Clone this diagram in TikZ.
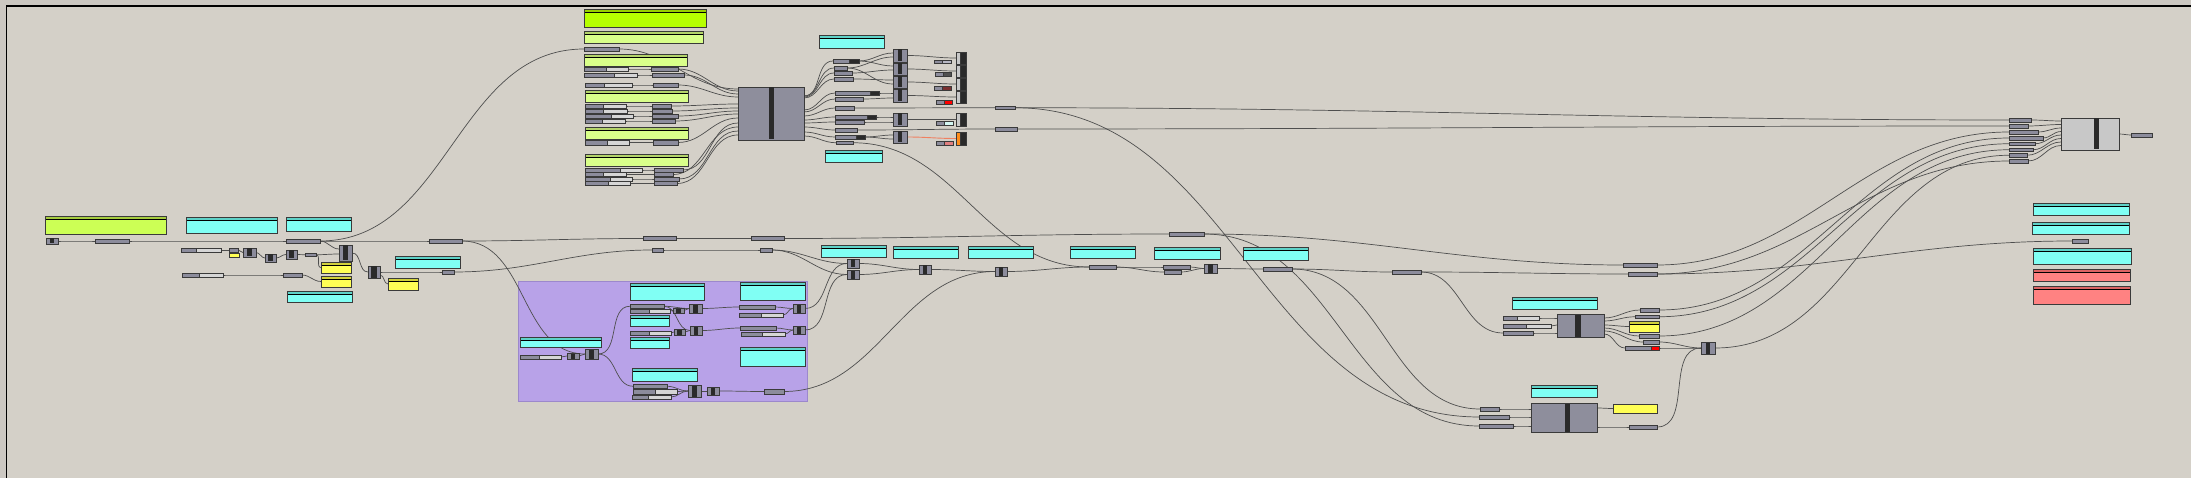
\documentclass[tikz,border=0pt]{standalone}
\definecolor{canvasbg}{HTML}{D4D0C8}
\definecolor{outbg}{HTML}{CCC8C2}
\definecolor{prmfill}{HTML}{8C8C9C}
\definecolor{prmdraw}{HTML}{3A3A3A}
\definecolor{sldlight}{HTML}{D6D6D6}
\definecolor{barcol}{HTML}{2A2A2A}
\definecolor{wirecol}{HTML}{4E4E4E}
\definecolor{cyanbody}{HTML}{80FFF4}
\definecolor{cyanhead}{HTML}{5ED2C8}
\definecolor{limebody}{HTML}{B6FF00}
\definecolor{limehead}{HTML}{98D000}
\definecolor{lgbody}{HTML}{D9FF8A}
\definecolor{lghead}{HTML}{B4D46A}
\definecolor{gabody}{HTML}{CCFF55}
\definecolor{gahead}{HTML}{A6CC3E}
\definecolor{yelbody}{HTML}{FFFF55}
\definecolor{yelhead}{HTML}{D2D23C}
\definecolor{salbody}{HTML}{FF8282}
\definecolor{salhead}{HTML}{DC6464}
\definecolor{grpfill}{HTML}{B8A2E8}
\definecolor{grpdraw}{HTML}{9C88CC}
\definecolor{bigfill}{HTML}{8E8E9C}
\definecolor{lightbig}{HTML}{C8C8C8}
\definecolor{orangewire}{HTML}{F08060}
\definecolor{orangefill}{HTML}{FF8C1A}
\definecolor{lightsw}{HTML}{B8B8C4}
\definecolor{darksw}{HTML}{505050}
\definecolor{darkredsw}{HTML}{7A3030}
\definecolor{redsw}{HTML}{FF0000}
\definecolor{cyanwhite}{HTML}{D4F6F2}
\definecolor{salsw}{HTML}{E08080}
\pgfdeclarelayer{back}
\pgfdeclarelayer{wirelayer}
\pgfsetlayers{back,wirelayer,main}
\tikzset{
  box/.style={anchor=north west, inner sep=0pt, outer sep=0pt},
  prmbox/.style={box, fill=prmfill, draw=prmdraw, line width=0.6pt},
  sldbox/.style={box, fill=sldlight, draw=prmdraw, line width=0.6pt},
  wire/.style={draw=wirecol, line width=0.7pt},
  pnlline/.style={draw=prmdraw, line width=0.7pt},
}
\newcommand\prm[5]{\node[prmbox,minimum width={(#4-#2)*1pt},minimum height={(#5-#3)*1pt}] (#1) at (#2,#3) {};}
\newcommand\prmk[7]{\prm{#1}{#2}{#3}{#4}{#5}\filldraw[fill=#7,draw=prmdraw,line width=0.6pt] (#6,#3) rectangle (#4,#5);}
\newcommand\swt[6]{\prm{#1}{#2}{#3}{#4}{#5}\filldraw[fill=#6,draw=prmdraw,line width=0.6pt] ({(#2+#4)/2},#3) rectangle (#4,#5);}
\newcommand\sld[6]{\node[sldbox,minimum width={(#4-#2)*1pt},minimum height={(#5-#3)*1pt}] (#1) at (#2,#3) {};\filldraw[fill=prmfill,draw=prmdraw,line width=0.6pt] (#2,#3) rectangle (#6,#5);}
\newcommand\cmpbar[8]{\node[box,fill=#8,draw=prmdraw,line width=0.6pt,minimum width={(#4-#2)*1pt},minimum height={(#5-#3)*1pt}] (#1) at (#2,#3) {};\fill[barcol] (#6,#3+0.5) rectangle (#7,#5-0.5);}
\newcommand\cmp[6]{\cmpbar{#1}{#2}{#3}{#4}{#5}{{(#2+#4)/2-(#4-#2)*#6/2}}{{(#2+#4)/2+(#4-#2)*#6/2}}{prmfill}}
\newcommand\ocmp[6]{\node[box,fill=barcol,draw=prmdraw,line width=0.6pt,minimum width={(#4-#2)*1pt},minimum height={(#5-#3)*1pt}] (#1) at (#2,#3) {};\filldraw[fill=#6,draw=prmdraw,line width=0.5pt] (#2,#3) rectangle ({#2+(#4-#2)*0.38},#5);}
\newcommand\pnl[7]{\node[box,fill=#6,minimum width={(#4-#2)*1pt},minimum height={(#5-#3)*1pt}] (#1) at (#2,#3) {};\fill[#7] (#2,#3) rectangle (#4,#3+3);\draw[black,line width=0.7pt] (#2,#3+3.3) -- (#4,#3+3.3);\draw[pnlline] (#2,#3) rectangle (#4,#5);}
\newcommand\W[3][]{\draw[wire,#1] (#2) to[out=0,in=180] (#3);}
\begin{document}
\begin{tikzpicture}[x=1pt,y=-1pt]
\useasboundingbox (0,0) rectangle (2191,478);
\begin{pgfonlayer}{back}
\fill[outbg] (0,0) rectangle (2191,478);
\fill[canvasbg] (6.5,6) rectangle (2191,478);
\draw[black,line width=1.2pt] (6.5,478) -- (6.5,6) -- (2191,6);
\node[box,fill=grpfill,draw=grpdraw,line width=0.8pt,minimum width=289pt,minimum height=120pt] (grp) at (518,281) {};
\end{pgfonlayer}
% ---------- left area
\pnl{panA}{45}{216}{166}{234}{gabody}{gahead}
\pnl{panB}{186}{217}{277}{233}{cyanbody}{cyanhead}
\pnl{panC}{286}{217}{351}{231}{cyanbody}{cyanhead}
\cmp{tog}{46}{238}{58}{244}{0.4}
\prm{pA}{95}{239}{129}{243}
\prm{pB}{286}{239}{320}{243}
\prm{pC}{429}{239}{462}{243}
\sld{sA}{181}{248}{221}{252}{196}
\prm{qA}{229}{248}{238}{252}
\node[box,fill=yelbody,draw=prmdraw,line width=0.5pt,minimum width=10pt,minimum height=4pt] (qAy) at (229,253) {};
\cmp{cA}{243}{248}{256}{257}{0.4}
\cmp{cB}{265}{254}{276}{262}{0.4}
\cmp{cC}{286}{250}{297}{259}{0.4}
\prm{qB}{305}{253}{316}{256.5}
\cmp{cD}{339}{245}{352}{261}{0.45}
\pnl{yA}{321}{262}{351}{273}{yelbody}{yelhead}
\pnl{yB}{321}{276}{351}{287}{yelbody}{yelhead}
\cmp{cE}{368}{266}{380}{278}{0.45}
\prm{qC}{442}{270}{454}{274}
\pnl{panD}{395}{256}{460}{268}{cyanbody}{cyanhead}
\pnl{yC}{388}{278}{418}{290}{yelbody}{yelhead}
\sld{sB}{182}{273}{223}{277}{199}
\prm{qD}{283}{273}{302}{277}
\pnl{panE}{287}{291}{352}{302}{cyanbody}{cyanhead}
\prm{xA}{643}{236.5}{676}{240.5}
\prm{xB}{751}{236.5}{784}{240.5}
\prm{yaP}{652}{248}{663}{252}
\prm{ybP}{760}{248}{772}{252}
% ---------- purple group
\pnl{gA}{520}{337}{601}{347}{cyanbody}{cyanhead}
\sld{gS}{520}{355}{561}{359}{539}
\cmp{gcz}{567}{353}{579}{359}{0.4}
\cmp{gca}{585}{349}{598}{359}{0.4}
\pnl{gB}{630}{283}{704}{300}{cyanbody}{cyanhead}
\prm{gp1}{630}{304}{664}{308.5}
\sld{gs1}{630}{309}{670}{313}{649}
\cmp{gsc1}{673}{308}{684}{313}{0.4}
\cmp{gcb}{689}{304}{702}{313}{0.4}
\pnl{gC}{630}{315}{669}{326}{cyanbody}{cyanhead}
\sld{gs2}{630}{331}{671}{335}{649}
\cmp{gsc2}{674}{329}{685}{335}{0.4}
\cmp{gcc}{690}{326}{702}{335}{0.4}
\pnl{gD}{630}{337}{669}{348}{cyanbody}{cyanhead}
\pnl{gE}{740}{282}{805}{300}{cyanbody}{cyanhead}
\prm{gq1}{739}{305}{775}{309}
\sld{gs3}{739}{313}{783}{317}{761}
\cmp{gcd}{793}{304}{805}{313}{0.4}
\prm{gq2}{740}{326}{776}{330}
\sld{gs4}{741}{332}{785}{336}{762}
\cmp{gce}{793}{326}{805}{334}{0.4}
\pnl{gF}{740}{347}{805}{366}{cyanbody}{cyanhead}
\pnl{gG}{632}{368}{697}{381}{cyanbody}{cyanhead}
\prm{gp7}{633}{384}{667}{388.5}
\sld{gs7}{633}{389}{677}{394}{655}
\sld{gs8}{632}{395}{671}{399}{648}
\cmp{gcf}{688}{385}{701}{397}{0.4}
\cmp{gcg}{707}{387}{719}{395}{0.4}
\prm{gout}{764}{389}{784}{394}
% ---------- top cluster
\pnl{ga}{584}{9}{706}{27}{limebody}{limehead}
\pnl{gb}{584}{31}{703}{43}{lgbody}{lghead}
\prm{ptop}{584}{47}{619}{51}
\pnl{gc}{584}{54}{687}{66}{lgbody}{lghead}
\sld{sc1}{584}{67}{628}{71}{606}
\sld{sc2}{584}{73}{637}{77}{614}
\prm{pc1}{651}{67}{678}{71}
\prm{pc2}{652}{73}{684}{77}
\sld{sd0}{585}{83}{632}{87}{604}
\prm{pd0}{653}{83}{678}{87}
\pnl{gd}{585}{90}{688}{102}{lgbody}{lghead}
\sld{sd1}{585}{104}{626}{108}{603}
\sld{sd2}{585}{109}{627}{113}{603}
\sld{sd3}{585}{114}{633}{118}{611}
\sld{sd4}{585}{119}{625}{123}{602}
\prm{pd1}{652}{104}{671}{108}
\prm{pd2}{652}{109}{672}{113}
\prm{pd3}{652}{114}{678}{118}
\prm{pd4}{652}{119}{675}{123}
\pnl{ge}{585}{127}{688}{139}{lgbody}{lghead}
\sld{se}{585}{140}{629}{145}{607}
\prm{pe}{653}{140}{678}{145}
\pnl{gf}{585}{154}{688}{166}{lgbody}{lghead}
\sld{sf1}{585}{168}{642}{172}{620}
\sld{sf2}{585}{172.5}{626}{176.5}{603}
\sld{sf3}{585}{177}{632}{181}{610}
\sld{sf4}{585}{181.5}{630}{185.5}{608}
\prm{pf1}{654}{168}{683}{172}
\prm{pf2}{654}{172.5}{673}{176.5}
\prm{pf3}{654}{177}{679}{181}
\prm{pf4}{654}{181.5}{677}{185.5}
\cmpbar{big0}{738}{87}{804}{140}{769}{774}{bigfill}
\pnl{ha}{819}{35}{884}{48}{cyanbody}{cyanhead}
\pnl{hb}{825}{150}{882}{162}{cyanbody}{cyanhead}
\prmk{r1}{833}{59}{859}{63}{849}{barcol}
\prm{r2}{834}{66}{847}{70}
\prm{r3}{834}{71}{852}{75}
\prm{r4}{834}{77}{853}{81}
\prmk{r5}{835}{91}{879}{95}{870}{barcol}
\prm{r6}{835}{97}{863}{101}
\prm{r7}{835}{106}{854}{110}
\prmk{r8}{835}{115}{876}{119}{867}{barcol}
\prm{r9}{835}{120}{864}{124}
\prm{r10}{835}{128}{857}{132}
\prmk{r11}{835}{135}{865}{139}{856}{barcol}
\prm{r12}{836}{141}{853}{144.5}
\cmp{k1}{893}{49}{907}{62}{0.35}
\cmp{k2}{893}{63}{907}{75}{0.35}
\cmp{k3}{893}{76}{907}{88}{0.35}
\cmp{k4}{893}{89}{907}{102}{0.35}
\cmp{k5}{893}{113}{907}{126}{0.35}
\cmp{k6}{893}{131}{907}{143}{0.35}
\swt{w1}{934}{60}{951}{63.5}{lightsw}
\swt{w2}{935}{72}{951}{76}{darksw}
\swt{w3}{934}{86}{951}{90}{darkredsw}
\swt{w4}{936}{100}{952}{104}{redsw}
\swt{w5}{936}{121}{953}{125}{cyanwhite}
\swt{w6}{936}{141}{953}{145}{salsw}
\ocmp{o1}{956}{52}{966}{64}{lightbig}
\ocmp{o2}{956}{65}{966}{77}{lightbig}
\ocmp{o3}{956}{78}{966}{90}{lightbig}
\ocmp{o4}{956}{91}{966}{103}{lightbig}
\ocmp{o5}{956}{113}{966}{126}{lightbig}
\ocmp{o6}{956}{132}{966}{145}{orangefill}
\prm{tA}{995}{106}{1015}{109.5}
\prm{tB}{995}{127}{1017}{131}
% ---------- middle row
\pnl{kA}{821}{245}{886}{257}{cyanbody}{cyanhead}
\pnl{kB}{893}{246}{958}{258}{cyanbody}{cyanhead}
\pnl{kC}{968}{246}{1033}{258}{cyanbody}{cyanhead}
\pnl{kD}{1070}{246}{1135}{258}{cyanbody}{cyanhead}
\pnl{kE}{1154}{247}{1220}{259}{cyanbody}{cyanhead}
\pnl{kF}{1243}{247}{1308}{260}{cyanbody}{cyanhead}
\cmp{mA}{847}{259}{859}{268}{0.4}
\cmp{mB}{847}{270}{859}{279}{0.4}
\cmp{mC}{919}{265}{931}{274}{0.4}
\cmp{mD}{995}{267}{1007}{276}{0.4}
\prm{rA}{1089}{265}{1116}{269}
\prm{rB}{1163}{265}{1190}{269}
\prm{rC}{1164}{270}{1181}{274}
\cmp{mE}{1204}{264}{1217}{273}{0.4}
\prm{rD}{1263}{267}{1292}{271}
\prm{ttop}{1169}{232}{1204}{236}
\prm{uA}{1392}{270}{1421}{274}
\prm{vA}{1623}{263}{1657}{267}
\prm{vB}{1628}{272}{1657}{276}
% ---------- lower right
\pnl{nA}{1512}{297}{1597}{309}{cyanbody}{cyanhead}
\cmpbar{big2}{1557}{314}{1604}{337}{1575}{1581}{bigfill}
\sld{bs1}{1503}{316}{1539}{320}{1517}
\sld{bs2}{1503}{324}{1551}{328}{1526}
\prm{bp}{1503}{331}{1533}{335}
\prm{oa}{1640}{308}{1659}{312}
\prm{ob}{1635}{315}{1659}{318.5}
\pnl{oy}{1629}{321}{1659}{332}{yelbody}{yelhead}
\prm{oc}{1639}{334}{1659}{338}
\prm{od}{1643}{340}{1659}{344}
\prmk{oe}{1625}{346}{1659}{350}{1651}{redsw}
\cmp{mF}{1701}{342}{1715}{354}{0.35}
\pnl{nB}{1531}{385}{1597}{397}{cyanbody}{cyanhead}
\cmpbar{big3}{1531}{403}{1597}{432}{1565}{1570}{bigfill}
\node[box,fill=yelbody,draw=prmdraw,line width=0.7pt,minimum width=44pt,minimum height=9pt] (yD) at (1613,404) {};
\prm{bi1}{1480}{407}{1499}{411}
\prm{bi2}{1479}{415}{1509}{419}
\prm{bi3}{1479}{424}{1513}{428}
\prm{bo}{1629}{425}{1657}{429}
% ---------- far right
\cmpbar{big1}{2061}{118}{2119}{150}{2094}{2099}{lightbig}
\prm{bout}{2131}{133}{2152}{137}
\prm{in1}{2009}{118}{2031}{122}
\prm{in2}{2009}{124}{2028}{128}
\prm{in3}{2009}{130}{2038}{134}
\prm{in4}{2009}{136}{2043}{140}
\prm{in5}{2009}{142}{2035}{145.5}
\prm{in6}{2009}{148}{2033}{151.5}
\prm{in7}{2009}{153.5}{2027}{157}
\prm{in8}{2009}{159}{2028}{163}
\pnl{zA}{2033}{203}{2129}{215}{cyanbody}{cyanhead}
\pnl{zB}{2032}{222}{2129}{234}{cyanbody}{cyanhead}
\prm{sp}{2072}{239}{2088}{243}
\pnl{zC}{2033}{248}{2131}{264}{cyanbody}{cyanhead}
\pnl{zD}{2033}{269}{2130}{281}{salbody}{salhead}
\pnl{zE}{2033}{286}{2130}{304}{salbody}{salhead}
% ---------- wires
\begin{pgfonlayer}{wirelayer}
\W{tog.east}{pA.west}
\W{pA.east}{pB.west}
\W{pB.east}{pC.west}
\W{pB.east}{ptop.west}
\W{pB.east}{cD.west |- 0,249}
\W{sA.east}{qA.west}
\W{qA.east}{cA.west}
\W{cA.east}{cB.west}
\W{cB.east}{cC.west}
\W{cC.east}{qB.west}
\W{qB.east}{cD.west |- 0,254}
\W{qB.east}{yA.west}
\W{cD.east}{cE.west}
\W{cE.east}{qC.west}
\W{cE.east |- 0,275}{yC.west}
\W{sB.east}{qD.west}
\W{qD.east}{yB.west}
\W{pC.east}{xA.west}
\W{xA.east}{xB.west}
\W{xB.east}{ttop.west}
\W{pC.east}{gca.west}
\W{qC.east}{yaP.west}
\W{yaP.east}{ybP.west}
\W{ybP.east}{mA.west}
\W{ybP.east}{mB.west}
% purple
\W{gS.east}{gcz.west}
\W{gcz.east}{gca.west}
\W{gca.east}{gp1.west}
\W{gca.east}{gp7.west}
\W{gp1.east}{gcb.west}
\W{gs1.east}{gsc1.west}
\W{gsc1.east}{gcb.west}
\W{gp1.east}{gcc.west}
\W{gs2.east}{gsc2.west}
\W{gsc2.east}{gcc.west}
\W{gcb.east}{gq1.west}
\W{gq1.east}{gcd.west}
\W{gs3.east}{gcd.west}
\W{gcc.east}{gq2.west}
\W{gq2.east}{gce.west}
\W{gs4.east}{gce.west}
\W{gcd.east}{mA.west}
\W{gce.east}{mB.west}
\W{gp7.east}{gcf.west}
\W{gs7.east}{gcf.west}
\W{gs8.east}{gcf.west}
\W{gcf.east}{gcg.west}
\W{gcg.east}{gout.west}
\W{gout.east}{mD.west}
% middle chain
\W{mA.east}{mC.west}
\W{mB.east}{mC.west}
\W{mC.east}{mD.west}
\W{mD.east}{rA.west}
\W{r12.east}{rA.west}
\W{rA.east}{rB.west}
\W{rA.east}{rC.west}
\W{rB.east}{mE.west}
\W{rC.east}{mE.west}
\W{mE.east}{rD.west}
\W{rD.east}{uA.west}
\W{rD.east}{bi1.west}
\W{tA.east}{bi2.west}
\W{ttop.east}{bi3.west}
\W{ttop.east}{vA.west}
\W{uA.east}{vB.west}
\W{uA.east}{bp.west}
% big2 / big3
\W{bs1.east}{big2.west |- 0,318}
\W{bs2.east}{big2.west |- 0,325}
\W{bp.east}{big2.west |- 0,333}
\W{big2.east |- 0,318}{oa.west}
\W{big2.east |- 0,321}{ob.west}
\W{big2.east |- 0,325}{oy.west}
\W{big2.east |- 0,328}{oc.west}
\W{big2.east |- 0,331}{od.west}
\W{big2.east |- 0,334}{oe.west}
\W{od.east}{mF.west}
\W{oe.east}{mF.west}
\W{bo.east}{mF.west}
\W{bi1.east}{big3.west |- 0,409}
\W{bi2.east}{big3.west |- 0,417}
\W{bi3.east}{big3.west |- 0,426}
\W{big3.east |- 0,408}{yD.west}
\W{big3.east |- 0,427}{bo.west}
% big1
\W{tA.east}{in1.west}
\W{tB.east}{in2.west}
\W{vA.east}{in3.west}
\W{oa.east}{in4.west}
\W{ob.east}{in5.west}
\W{oc.east}{in6.west}
\W{mF.east}{in7.west}
\W{vB.east}{in8.west}
\W{vB.east}{sp.west}
\W{in1.east}{big1.west |- 0,121}
\W{in2.east}{big1.west |- 0,124.5}
\W{in3.east}{big1.west |- 0,128}
\W{in4.east}{big1.west |- 0,131.5}
\W{in5.east}{big1.west |- 0,135}
\W{in6.east}{big1.west |- 0,138.5}
\W{in7.east}{big1.west |- 0,142}
\W{in8.east}{big1.west |- 0,145.5}
\W{big1.east |- 0,134}{bout.west}
% top cluster
\W{sc1.east}{pc1.west}
\W{sc2.east}{pc2.west}
\W{sd0.east}{pd0.west}
\W{sd1.east}{pd1.west}
\W{sd2.east}{pd2.west}
\W{sd3.east}{pd3.west}
\W{sd4.east}{pd4.west}
\W{se.east}{pe.west}
\W{sf1.east}{pf1.west}
\W{sf2.east}{pf2.west}
\W{sf3.east}{pf3.west}
\W{sf4.east}{pf4.west}
\W{ptop.east}{big0.west |- 0,89}
\W{pc1.east}{big0.west |- 0,91}
\W{pc2.east}{big0.west |- 0,94}
\W{pd0.east}{big0.west |- 0,97}
\W{pd1.east}{big0.west |- 0,104}
\W{pd2.east}{big0.west |- 0,108}
\W{pd3.east}{big0.west |- 0,111}
\W{pd4.east}{big0.west |- 0,114}
\W{pe.east}{big0.west |- 0,118}
\W{pf1.east}{big0.west |- 0,123}
\W{pf2.east}{big0.west |- 0,127}
\W{pf3.east}{big0.west |- 0,131}
\W{pf4.east}{big0.west |- 0,135}
\W{big0.east |- 0,96}{r1.west}
\W{big0.east |- 0,96}{r2.west}
\W{big0.east |- 0,97}{r3.west}
\W{big0.east |- 0,98}{r4.west}
\W{big0.east |- 0,110}{r5.west}
\W{big0.east |- 0,112}{r6.west}
\W{big0.east |- 0,116}{r7.west}
\W{big0.east |- 0,120}{r8.west}
\W{big0.east |- 0,123}{r9.west}
\W{big0.east |- 0,127}{r10.west}
\W{big0.east |- 0,132}{r11.west}
\W{big0.east |- 0,136}{r12.west}
\W{r1.east}{k1.west |- 0,53}
\W{r1.east}{k2.west |- 0,66}
\W{r2.east}{k1.west |- 0,57}
\W{r3.east}{k2.west |- 0,70}
\W{r4.east}{k3.west |- 0,80}
\W{r2.east}{k3.west |- 0,84}
\W{r5.east}{k4.west |- 0,93}
\W{r6.east}{k4.west |- 0,98}
\W{r8.east}{k5.west |- 0,117}
\W{r9.east}{k5.west |- 0,122}
\W{r11.east}{k6.west |- 0,135}
\W{r11.east}{k6.west |- 0,139}
\W{k1.east}{o1.west}
\W{k2.east}{o2.west}
\W{k3.east}{o3.west}
\W{k4.east}{o4.west}
\W{k5.east}{o5.west}
\W[draw=orangewire,line width=0.9pt]{k6.east}{o6.west}
\W{r7.east}{tA.west}
\W{r10.east}{tB.west}
\end{pgfonlayer}
\end{tikzpicture}
\end{document}
